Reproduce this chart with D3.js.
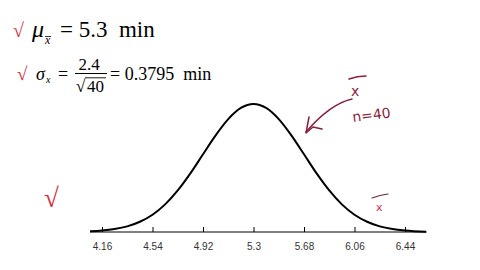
<!DOCTYPE html>
<html><head><meta charset="utf-8">
<script src="https://cdn.jsdelivr.net/npm/d3@7"></script>
<style>html,body{margin:0;padding:0;background:#fff;overflow:hidden}</style>
</head><body>
<svg id="chart" width="480" height="270"></svg>
<script>
// ---- data ----
const tickValues = [4.16, 4.54, 4.92, 5.3, 5.68, 6.06, 6.44];
const tickLabels = ["4.16", "4.54", "4.92", "5.3", "5.68", "6.06", "6.44"];
const axisRange = [4.07, 6.6];
// sampled points of the drawn bell curve (x in minutes, height relative to peak)
const curveX = [4.07, 4.16, 4.255, 4.35, 4.445, 4.54, 4.635, 4.73, 4.825, 4.92, 5.015, 5.11, 5.205, 5.3,
                5.395, 5.49, 5.585, 5.68, 5.775, 5.87, 5.965, 6.06, 6.155, 6.25, 6.345, 6.44, 6.6];
const curveH = [0.005, 0.011, 0.023, 0.044, 0.080, 0.135, 0.216, 0.325, 0.458, 0.607, 0.755, 0.882, 0.969, 1.0,
                0.969, 0.882, 0.755, 0.607, 0.458, 0.325, 0.216, 0.135, 0.080, 0.044, 0.023, 0.011, 0.002];
const muText = "= 5.3  min";
const sigmaNum = "2.4", sigmaDen = "40", sigmaResult = "= 0.3795  min";

const svg = d3.select("#chart");
svg.append("rect").attr("width", 480).attr("height", 270).attr("fill", "#fff");

const x = d3.scaleLinear().domain([4.16, 6.44]).range([102, 405]);
const y = d3.scaleLinear().domain([0, 1]).range([232, 104]);

// axis
const axisG = svg.append("g").attr("transform", "translate(0,232)");
axisG.append("line").attr("x1", x(axisRange[0])).attr("x2", x(axisRange[1]))
  .attr("stroke", "#000").attr("stroke-width", 1);
const axis = d3.axisBottom(x).tickValues(tickValues)
  .tickFormat((d, i) => tickLabels[i]).tickSizeInner(-5).tickSizeOuter(0).tickPadding(11);
axisG.call(axis);
axisG.select(".domain").remove();
axisG.selectAll(".tick line").attr("stroke", "#000");
axisG.selectAll(".tick text").attr("font-family", "'Liberation Sans', Arial, sans-serif")
  .attr("font-size", 10).attr("fill", "#333");

// curve
const line = d3.line().x((d, i) => x(curveX[i])).y(d => y(d)).curve(d3.curveMonotoneX);
svg.append("path").attr("d", line(curveH)).attr("fill", "none")
  .attr("stroke", "#000").attr("stroke-width", 2);

// ---- formulas ----
const serif = "'Liberation Serif', 'Times New Roman', serif";
const red = "#d52b3c";
const ink = "#8a1f3e";

function t(px, py, size, txt, opts = {}) {
  const el = svg.append("text").attr("x", px).attr("y", py)
    .attr("font-family", opts.family || serif).attr("font-size", size)
    .attr("fill", opts.fill || "#000").style("white-space", "pre").text(txt);
  if (opts.italic) el.attr("font-style", "italic");
  if (opts.anchor) el.attr("text-anchor", opts.anchor);
  if (opts.rotate) el.attr("transform", `rotate(${opts.rotate},${px},${py})`);
  return el;
}
function check(px, py, size, col) { t(px, py, size, "√", { fill: col }); }
check(13, 37, 20, red);
check(17, 80, 19, red);
check(44, 207, 27, red);

// line 1: mu_xbar = 5.3 min
t(32, 37, 24, "μ", { italic: true });
t(45, 44, 12, "x", { italic: true });
svg.append("line").attr("x1", 45).attr("x2", 51).attr("y1", 36.5).attr("y2", 36.5)
  .attr("stroke", "#000").attr("stroke-width", 0.8);
t(60, 37, 23, muText);

// line 2: sigma_x = 2.4 / sqrt(40) = 0.3795 min
t(36, 80, 18, "σ", { italic: true });
t(46, 83, 10, "x", { italic: true });
t(58, 80, 18, "=");
t(89, 70, 17, sigmaNum, { anchor: "middle" });
svg.append("line").attr("x1", 75).attr("x2", 107).attr("y1", 73.5).attr("y2", 73.5)
  .attr("stroke", "#000").attr("stroke-width", 1);
t(76, 92, 17, "√");
t(87, 92, 17, sigmaDen);
svg.append("line").attr("x1", 85).attr("x2", 106).attr("y1", 77.8).attr("y2", 77.8)
  .attr("stroke", "#000").attr("stroke-width", 0.9);
t(110, 80, 18, sigmaResult);

// ---- handwritten annotations ----
const hand = "'DejaVu Sans', sans-serif";
t(351, 96, 14, "x", { family: hand, fill: ink });
svg.append("path").attr("d", "M349,79 Q357,76 366,76").attr("fill", "none")
  .attr("stroke", ink).attr("stroke-width", 1.5).attr("stroke-linecap", "round");
t(353, 122, 14, "n=40", { family: hand, fill: ink, rotate: -7 });
svg.append("path").attr("d", "M352,99 Q330,104 306,132").attr("fill", "none")
  .attr("stroke", ink).attr("stroke-width", 1.5).attr("stroke-linecap", "round");
svg.append("path").attr("d", "M309,117 L306,133 L313,127 L322,129").attr("fill", "none")
  .attr("stroke", ink).attr("stroke-width", 1.5).attr("stroke-linecap", "round").attr("stroke-linejoin", "round");
t(376, 211, 11, "x", { family: hand, fill: red });
svg.append("path").attr("d", "M372,198 Q380,195 388,194").attr("fill", "none")
  .attr("stroke", "#6a2a3a").attr("stroke-width", 1.2).attr("stroke-linecap", "round");
</script>
</body></html>
